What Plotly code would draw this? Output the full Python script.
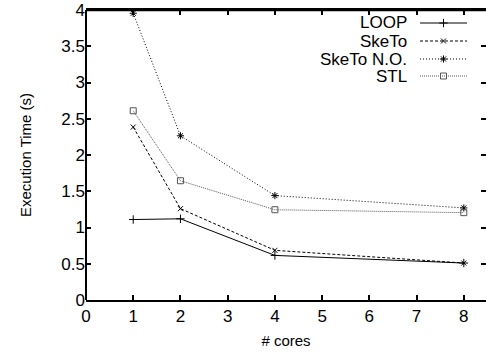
import plotly.graph_objects as go

cores = [1, 2, 4, 8]
loop = [1.11, 1.12, 0.615, 0.51]
sketo = [2.385, 1.26, 0.685, 0.51]
sketo_no = [3.955, 2.265, 1.44, 1.27]
stl = [2.61, 1.645, 1.245, 1.205]

series_names = ["LOOP", "SkeTo", "SkeTo N.O.", "STL"]
series_values = [loop, sketo, sketo_no, stl]
x_ticks = list(range(0, 9))
y_ticks = [0, 0.5, 1, 1.5, 2, 2.5, 3, 3.5, 4]
y_tick_labels = ["0", "0.5", "1", "1.5", "2", "2.5", "3", "3.5", "4"]

styles = [
    dict(color="black", dash="solid", symbol="cross-thin", size=6),
    dict(color="black", dash="3px,2px", symbol="x-thin", size=5),
    dict(color="black", dash="1px,2px", symbol="asterisk", size=6),
    dict(color="#555555", dash="1px,1px", symbol="square-open", size=6),
]

FONT = "Liberation Sans, Arial, sans-serif"
W, H = 486, 354
ML, MR, MT, MB = 86, 0, 10, 54
X_MAX, Y_MAX = 8.47, 4.0

def px_to_paper_x(px):
    return (px - ML) / (W - ML - MR)

def px_to_paper_y(py):
    return (H - MB - py) / (H - MT - MB)

fig = go.Figure()

for name, vals, st in zip(series_names, series_values, styles):
    fig.add_trace(go.Scatter(
        x=cores, y=vals, mode="lines+markers", name=name, showlegend=False,
        line=dict(color=st["color"], width=1, dash=st["dash"]),
        marker=dict(symbol=st["symbol"], size=st["size"], color=st["color"],
                    line=dict(color=st["color"], width=1)),
    ))

# Manual legend (text on the left, sample on the right), gnuplot style
legend_rows_y = [23, 41, 59, 76]          # pixel rows
legend_text_x = 409
legend_line_x = [420, 443.5, 467]
for name, st, ry in zip(series_names, styles, legend_rows_y):
    py = px_to_paper_y(ry)
    fig.add_annotation(text=name, x=px_to_paper_x(legend_text_x), y=py,
                       xref="paper", yref="paper",
                       xanchor="right", yanchor="middle", showarrow=False,
                       font=dict(family=FONT, size=17, color="black"))
    fig.add_shape(type="line", xref="paper", yref="paper",
                  x0=px_to_paper_x(legend_line_x[0]), x1=px_to_paper_x(legend_line_x[2]),
                  y0=py, y1=py, line=dict(color=st["color"], width=1, dash=st["dash"]))
    fig.add_trace(go.Scatter(
        x=[px_to_paper_x(legend_line_x[1]) * X_MAX], y=[py * Y_MAX], mode="markers",
        marker=dict(symbol=st["symbol"], size=st["size"], color=st["color"],
                    line=dict(color=st["color"], width=1)),
        showlegend=False, hoverinfo="skip", cliponaxis=False))

axis_font = dict(family=FONT, size=17, color="black")
tick_style = dict(ticks="inside", ticklen=5, tickwidth=1.5, tickcolor="black",
                  showgrid=False, zeroline=False)
fig.update_layout(
    width=W, height=H,
    margin=dict(l=ML, r=MR, t=MT, b=MB),
    plot_bgcolor="white", paper_bgcolor="white",
    font=dict(family=FONT, color="black"),
    xaxis=dict(range=[0, X_MAX], tickvals=x_ticks, showline=True,
               linecolor="black", linewidth=2, tickfont=axis_font, mirror="ticks",
               title=dict(text="# cores", font=dict(family=FONT, size=15), standoff=10),
               **tick_style),
    yaxis=dict(range=[0, Y_MAX], tickvals=y_ticks, ticktext=y_tick_labels,
               showline=False, tickfont=axis_font, mirror="ticks",
               title=dict(text="Execution Time (s)", font=dict(family=FONT, size=15), standoff=26),
               **tick_style),
)
# left border and top border (right border lies outside the picture)
fig.add_shape(type="line", xref="paper", yref="paper", x0=0, x1=0, y0=0, y1=1,
              line=dict(color="black", width=2), layer="above")
fig.add_shape(type="line", xref="paper", yref="paper", x0=0, x1=1, y0=1, y1=1,
              line=dict(color="black", width=2.5), layer="above")

fig.write_html("out.html", config={"displayModeBar": False},
               post_script="document.body.style.margin='0';")
